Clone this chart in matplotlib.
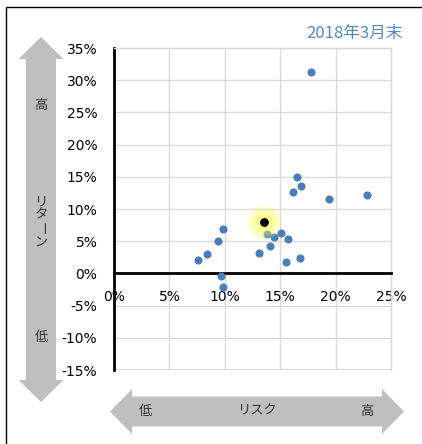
import numpy as np
import matplotlib.pyplot as plt
from matplotlib.patches import Polygon, Rectangle

# risk (x, %) and return (y, %) of each fund
risk = [17.75, 16.5, 16.9, 16.2, 19.4, 22.8, 9.87, 13.8, 14.4, 15.1, 15.7,
        14.1, 9.36, 8.4, 7.55, 13.1, 15.5, 16.8, 9.7, 9.84]
ret = [31.3, 14.9, 13.5, 12.7, 11.5, 12.1, 6.9, 6.1, 5.7, 6.2, 5.3,
       4.3, 5.0, 3.0, 2.1, 3.1, 1.7, 2.4, -0.4, -2.1]
# highlighted fund
hl_risk = [13.5]
hl_ret = [8.0]

x_ticks = [0, 5, 10, 15, 20, 25]
y_ticks = [-15, -10, -5, 0, 5, 10, 15, 20, 25, 30, 35]
title = '2018年3月末'

W, H = 422, 444
jp = ['Noto Sans CJK JP', 'DejaVu Sans']

fig = plt.figure(figsize=(W / 100, H / 100), dpi=100)
ax = fig.add_axes([114 / W, 1 - 370 / H, (391 - 114) / W, (370 - 48) / H])

blue = '#4A7EBB'
ax.scatter(risk, ret, s=34, color=blue, zorder=3, linewidths=0)

# soft yellow glow around the highlighted point
for r in np.linspace(18, 3, 16):
    ax.scatter(hl_risk, hl_ret, s=(2 * r * 0.72) ** 2, color='#FFFF50',
               alpha=0.07, linewidths=0, zorder=4)
ax.scatter(hl_risk, hl_ret, s=40, color='black', zorder=5, linewidths=0)

ax.set_xlim(0, 25)
ax.set_ylim(-15, 35)
ax.set_xticks(x_ticks)
ax.set_yticks(y_ticks)
ax.set_xticklabels([f'{v}%' for v in x_ticks])
ax.set_yticklabels([f'{v}%' for v in y_ticks])
ax.tick_params(length=0, labelsize=10, colors='black')
ax.tick_params(axis='x', pad=12)
ax.tick_params(axis='y', pad=12)
ax.grid(True, color='#D9D9D9', linewidth=1)
ax.set_axisbelow(True)

for s in ['top', 'right']:
    ax.spines[s].set_color('#D9D9D9')
    ax.spines[s].set_linewidth(1)
ax.spines['left'].set_linewidth(2)
ax.spines['bottom'].set_position(('data', 0))
ax.spines['bottom'].set_linewidth(2)
ax.axhline(-15, color='#D9D9D9', linewidth=1.5, zorder=0)


def px(x, y):
    return (x / W, 1 - y / H)


gray = '#BFBFBF'
# vertical double arrow (リターン)
cx, top, bot, hw, sw, hl = 41, 37, 402, 22.5, 15, 22
v = [(cx, top), (cx + hw, top + hl), (cx + sw, top + hl), (cx + sw, bot - hl),
     (cx + hw, bot - hl), (cx, bot), (cx - hw, bot - hl), (cx - sw, bot - hl),
     (cx - sw, top + hl), (cx - hw, top + hl)]
fig.patches.append(Polygon([px(*p) for p in v], closed=True, facecolor=gray,
                           edgecolor='none', transform=fig.transFigure))
# horizontal double arrow (リスク)
cy, left, right = 411.5, 110, 404
h = [(left, cy), (left + hl, cy - hw), (left + hl, cy - sw), (right - hl, cy - sw),
     (right - hl, cy - hw), (right, cy), (right - hl, cy + hw), (right - hl, cy + sw),
     (left + hl, cy + sw), (left + hl, cy + hw)]
fig.patches.append(Polygon([px(*p) for p in h], closed=True, facecolor=gray,
                           edgecolor='none', transform=fig.transFigure))

tc = '#333333'
kw = dict(family=jp, fontsize=9.5, color=tc, ha='center', va='center')
fig.text(*px(41, 105), '高', **kw)
# vertical writing: one character per line, long-vowel mark turned upright
for ch, yy in zip('リターン', [202, 215, 229, 242]):
    fig.text(*px(41, yy), ch, rotation=-90 if ch == 'ー' else 0, **kw)
fig.text(*px(41, 337), '低', **kw)
fig.text(*px(145, 411), '低', **kw)
fig.text(*px(257, 411), 'リスク', **kw)
fig.text(*px(367, 411), '高', **kw)

fig.text(*px(403, 33), title, family=jp, fontsize=12, color='#5289C8',
         ha='right', va='center')

# outer frame
fig.patches.append(Rectangle(px(5.5, 460), 1, (460 - 6.5) / H, fill=False,
                             edgecolor='black', linewidth=1, transform=fig.transFigure))

fig.savefig('out.png', dpi=100)
